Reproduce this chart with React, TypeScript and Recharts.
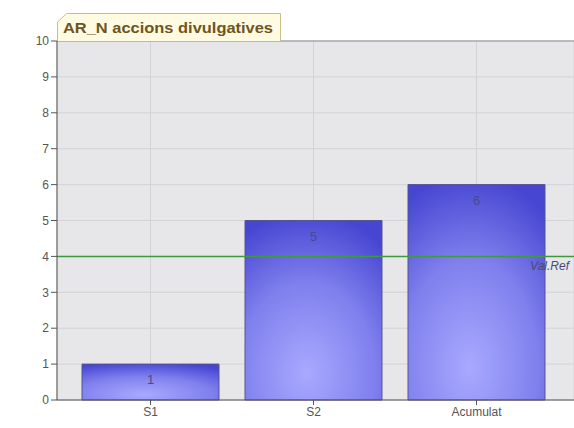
// Gràfic de barres: accions divulgatives per semestre amb valor de referència
import React from "react";
import {
  BarChart,
  Bar,
  XAxis,
  YAxis,
  CartesianGrid,
  ReferenceLine,
  LabelList,
} from "recharts";

const categories = ["S1", "S2", "Acumulat"];
const values = [1, 5, 6];
const yTicks = [0, 1, 2, 3, 4, 5, 6, 7, 8, 9, 10];
const refValue = 4;
const refLabel = "Val.Ref";
const title = "AR_N accions divulgatives";

const data = categories.map((name, i) => ({ name, value: values[i] }));

const font = "'Liberation Sans', Arial, sans-serif";

export default function App() {
  return (
    <div
      style={{
        position: "absolute",
        left: 0,
        top: 0,
        width: 574,
        height: 428,
        background: "#fff",
        fontFamily: font,
      }}
    >
      <BarChart
        width={574}
        height={428}
        data={data}
        margin={{ top: 41, right: 0, left: 0, bottom: 0 }}
        barSize={137}
      >
        <defs>
          <radialGradient id="barFill" cx="0.45" cy="0.85" r="0.9">
            <stop offset="0%" stopColor="#a9a9ff" />
            <stop offset="55%" stopColor="#8080ee" />
            <stop offset="100%" stopColor="#4646d2" />
          </radialGradient>
        </defs>
        <CartesianGrid stroke="#d3d3d7" fill="#e7e7ea" />
        <XAxis
          dataKey="name"
          padding={{ left: 12, right: 16 }}
          height={28}
          stroke="#555"
          tickSize={5}
          tick={{ fill: "#555", fontSize: 12, fontFamily: font }}
        />
        <YAxis
          width={57}
          domain={[0, 10]}
          ticks={yTicks}
          interval={0}
          stroke="#555"
          tickSize={6}
          tick={{ fill: "#555", fontSize: 12, fontFamily: font }}
        />
        <ReferenceLine y={10} stroke="#8f8f95" />
        <Bar
          dataKey="value"
          fill="url(#barFill)"
          stroke="#55558f"
          strokeWidth={1}
          isAnimationActive={false}
        >
          <LabelList
            dataKey="value"
            position="insideTop"
            offset={11}
            fill="#4a4a86"
            fontSize={13}
            fontFamily={font}
          />
        </Bar>
        <ReferenceLine
          y={refValue}
          stroke="#3f9a3f"
          strokeWidth={1.5}
          label={{
            value: refLabel,
            position: "insideTopRight",
            offset: 5,
            fill: "#4a4a70",
            fontSize: 12,
            fontStyle: "italic",
            fontFamily: font,
          }}
        />
      </BarChart>
      <svg
        width={300}
        height={42}
        style={{ position: "absolute", left: 0, top: 0 }}
      >
        <path
          d="M57.5,41 L57.5,22 L66.5,13.5 L280.5,13.5 L280.5,41"
          fill="#fffbe2"
          stroke="#c9bf8a"
        />
        <text
          x={63}
          y={33}
          fontFamily={font}
          fontWeight="bold"
          fontSize={15}
          fill="#6e5520"
          textLength={210}
          lengthAdjust="spacingAndGlyphs"
        >
          {title}
        </text>
      </svg>
    </div>
  );
}
